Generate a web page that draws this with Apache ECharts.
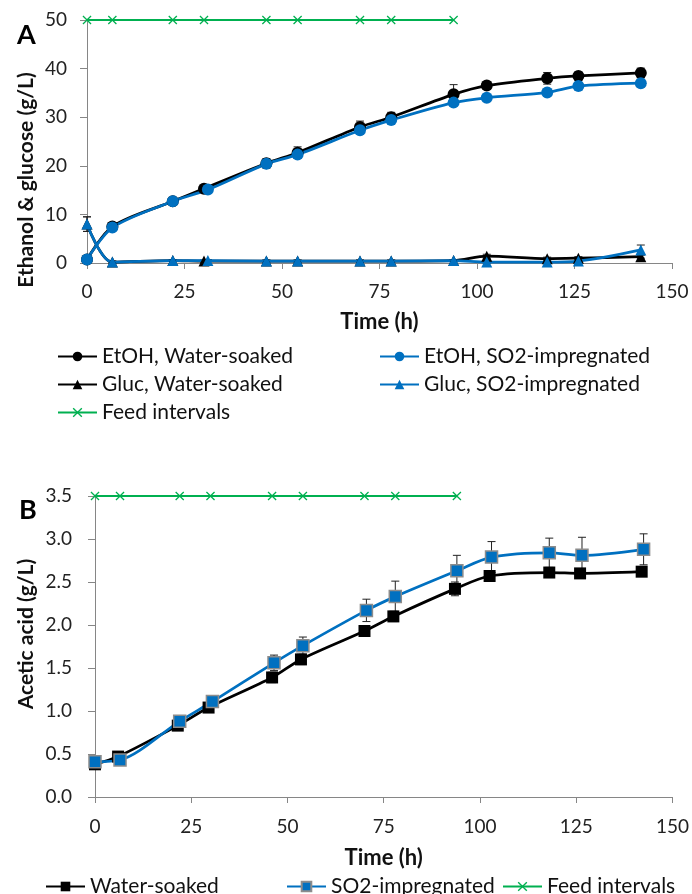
<!DOCTYPE html>
<html>
<head>
<meta charset="utf-8">
<script src="https://cdn.jsdelivr.net/npm/echarts@6/dist/echarts.min.js"></script>
<style>
  html, body { margin: 0; padding: 0; background: #fff; }
  #chart { width: 692px; height: 894px; }
</style>
</head>
<body>
<div id="chart"></div>
<script>
// panel A: ethanol & glucose
const timeAWater = [0, 6.5, 22, 30, 46, 54, 70, 78, 94, 102.5, 118, 126, 142];
const timeASO2 = [0, 6.5, 22, 31, 46, 54, 70, 78, 94, 102.5, 118, 126, 142];
const etohWater = [0.7, 7.5, 12.7, 15.3, 20.5, 22.7, 28.0, 30.0, 34.7, 36.5, 38.0, 38.5, 39.1];
const etohWaterErr = [0.3, 0.5, 0.6, 0.6, 1.0, 1.2, 1.2, 1.0, 2.0, 0.8, 1.2, 0.8, 1.0];
const etohSO2 = [0.7, 7.3, 12.7, 15.1, 20.4, 22.3, 27.3, 29.4, 33.0, 34.0, 35.1, 36.4, 37.0];
const etohSO2Err = [0.2, 0.4, 0.4, 0.4, 0.6, 0.6, 0.6, 0.5, 0.6, 0.4, 0.6, 0.4, 0.6];
const glucWater = [8.0, 0.2, 0.5, 0.4, 0.4, 0.4, 0.4, 0.4, 0.5, 1.4, 0.9, 1.0, 1.3];
const glucWaterErr = [1.5, 0.2, 0.2, 0.2, 0.2, 0.2, 0.2, 0.2, 0.2, 0.4, 0.3, 0.3, 0.3];
const glucSO2 = [8.0, 0.2, 0.5, 0.5, 0.4, 0.4, 0.4, 0.4, 0.5, 0.2, 0.2, 0.4, 2.7];
const glucSO2Err = [1.5, 0.2, 0.2, 0.2, 0.2, 0.2, 0.2, 0.2, 0.2, 0.2, 0.2, 0.3, 1.0];

// panel B: acetic acid
const timeBWater = [0, 6, 21.5, 29.5, 46, 53.5, 70, 77.5, 93.5, 102.5, 118, 126, 142];
const timeBSO2 = [0, 6.5, 22, 30.5, 46.5, 54, 70.5, 78, 94, 103, 118, 126.5, 142.5];
const aceticWater = [0.38, 0.47, 0.83, 1.04, 1.39, 1.60, 1.93, 2.10, 2.42, 2.57, 2.61, 2.60, 2.62];
const aceticWaterErr = [0.03, 0.03, 0.03, 0.04, 0.06, 0.06, 0.06, 0.06, 0.08, 0.05, 0.05, 0.05, 0.05];
const aceticSO2 = [0.41, 0.43, 0.88, 1.11, 1.56, 1.76, 2.17, 2.33, 2.63, 2.79, 2.84, 2.81, 2.88];
const aceticSO2Err = [0.03, 0.03, 0.04, 0.05, 0.09, 0.10, 0.13, 0.18, 0.18, 0.18, 0.17, 0.21, 0.18];

// feed points
const feedTimes = [0, 6.5, 22, 30, 46, 54, 70, 78, 94];
const feedLevelA = 50;
const feedLevelB = 3.5;

const FONT = "Lato";
const BLACK = "#000000";
const BLUE = "#0070C0";
const GREEN = "#00B050";
const AXIS = "#868686";
const CROSS = "path://M0,1L1,0L5,4L9,0L10,1L6,5L10,9L9,10L5,6L1,10L0,9L4,5Z";

const zip = (xs, ys) => xs.map((x, i) => [x, ys[i]]);
const errData = (xs, ys, es) => xs.map((x, i) => [x, ys[i] - es[i], ys[i] + es[i]]);

function errorSeries(idx, data) {
  return {
    type: "custom",
    xAxisIndex: idx,
    yAxisIndex: idx,
    silent: true,
    z: 1,
    data: data,
    encode: { x: 0, y: [1, 2] },
    renderItem: function (params, api) {
      const lo = api.coord([api.value(0), Math.max(api.value(1), 0)]);
      const hi = api.coord([api.value(0), api.value(2)]);
      const w = 4;
      const st = { stroke: "#222", lineWidth: 1 };
      return {
        type: "group",
        children: [
          { type: "line", shape: { x1: lo[0], y1: lo[1], x2: hi[0], y2: hi[1] }, style: st },
          { type: "line", shape: { x1: hi[0] - w, y1: hi[1], x2: hi[0] + w, y2: hi[1] }, style: st },
          { type: "line", shape: { x1: lo[0] - w, y1: lo[1], x2: lo[0] + w, y2: lo[1] }, style: st }
        ]
      };
    }
  };
}

function lineSeries(name, idx, data, color, symbol, size, extra) {
  return Object.assign({
    name: name,
    type: "line",
    xAxisIndex: idx,
    yAxisIndex: idx,
    data: data,
    smooth: 0.3,
    symbol: symbol,
    symbolSize: size,
    z: 3,
    lineStyle: { color: color, width: 2.75 },
    itemStyle: { color: color },
    emphasis: { disabled: true }
  }, extra || {});
}

function feedSeries(idx, level) {
  return {
    name: "Feed intervals",
    type: "line",
    xAxisIndex: idx,
    yAxisIndex: idx,
    data: feedTimes.map(t => [t, level]),
    symbol: CROSS,
    symbolSize: 9,
    z: 4,
    lineStyle: { color: GREEN, width: 2 },
    itemStyle: { color: GREEN },
    emphasis: { disabled: true }
  };
}

const xAxisCommon = {
  type: "value",
  min: 0,
  max: 150,
  interval: 25,
  splitLine: { show: false },
  axisLine: { lineStyle: { color: AXIS, width: 1 } },
  axisTick: { show: true, length: 6, lineStyle: { color: AXIS } },
  axisLabel: { color: "#222", fontSize: 19, fontFamily: FONT },
  name: "Time (h)",
  nameLocation: "middle",
  nameTextStyle: { color: "#111", fontSize: 22, fontWeight: "bold", fontFamily: FONT }
};

const yAxisCommon = {
  type: "value",
  min: 0,
  splitLine: { show: false },
  axisLine: { show: true, lineStyle: { color: AXIS, width: 1 } },
  axisTick: { show: true, length: 7, lineStyle: { color: AXIS } },
  axisLabel: { color: "#222", fontSize: 19, fontFamily: FONT }
};

const legendText = { color: "#111", fontSize: 21, fontFamily: FONT };
const yTitleStyle = { fill: "#111", fontSize: 21, fontWeight: "bold", fontFamily: FONT, align: "center", verticalAlign: "middle" };

const chart = echarts.init(document.getElementById("chart"));
const option = {
  backgroundColor: "#fff",
  animation: false,
  title: [
    { text: "A", left: 12, top: 17, textStyle: { fontSize: 27, fontWeight: "bold", fontFamily: FONT, color: "#000" } },
    { text: "B", left: 14, top: 492, textStyle: { fontSize: 27, fontWeight: "bold", fontFamily: FONT, color: "#000" } }
  ],
  graphic: [
    { type: "text", x: 26, y: 180, rotation: Math.PI / 2, style: Object.assign({ text: "Ethanol & glucose (g/L)" }, yTitleStyle) },
    { type: "text", x: 26, y: 634, rotation: Math.PI / 2, style: Object.assign({ text: "Acetic acid (g/L)" }, yTitleStyle) }
  ],
  grid: [
    { left: 87, top: 20, width: 585, height: 243 },
    { left: 95, top: 496, width: 578, height: 301 }
  ],
  xAxis: [
    Object.assign({}, xAxisCommon, { gridIndex: 0, nameGap: 48, axisLabel: Object.assign({}, xAxisCommon.axisLabel, { margin: 19 }) }),
    Object.assign({}, xAxisCommon, { gridIndex: 1, nameGap: 50, axisLabel: Object.assign({}, xAxisCommon.axisLabel, { margin: 20 }) })
  ],
  yAxis: [
    Object.assign({}, yAxisCommon, {
      gridIndex: 0, max: 50, interval: 10,
      axisLabel: Object.assign({}, yAxisCommon.axisLabel, { margin: 20 })
    }),
    Object.assign({}, yAxisCommon, {
      gridIndex: 1, max: 3.5, interval: 0.5,
      axisLabel: Object.assign({}, yAxisCommon.axisLabel, { margin: 23, formatter: v => v.toFixed(1) })
    })
  ],
  legend: [
    {
      data: ["EtOH, Water-soaked", "Gluc, Water-soaked", "Feed intervals"],
      orient: "vertical", left: 52, top: 341, itemGap: 7, itemWidth: 39, itemHeight: 12,
      textStyle: legendText, selectedMode: false
    },
    {
      data: ["EtOH, SO2-impregnated", "Gluc, SO2-impregnated"],
      orient: "vertical", left: 374, top: 341, itemGap: 7, itemWidth: 39, itemHeight: 12,
      textStyle: legendText, selectedMode: false
    },
    {
      data: ["Water-soaked"], left: 40, top: 871, itemWidth: 39, itemHeight: 12,
      textStyle: legendText, selectedMode: false
    },
    {
      data: ["SO2-impregnated"], left: 281, top: 871, itemWidth: 39, itemHeight: 12,
      textStyle: legendText, selectedMode: false
    },
    {
      data: [{ name: "Feed intervals" }], left: 497, top: 871, itemWidth: 39, itemHeight: 12,
      textStyle: legendText, selectedMode: false
    }
  ],
  series: [
    errorSeries(0, errData(timeAWater, etohWater, etohWaterErr)),
    errorSeries(0, errData(timeASO2, etohSO2, etohSO2Err)),
    errorSeries(0, errData(timeAWater, glucWater, glucWaterErr)),
    errorSeries(0, errData(timeASO2, glucSO2, glucSO2Err)),
    lineSeries("EtOH, Water-soaked", 0, zip(timeAWater, etohWater), BLACK, "circle", 12),
    lineSeries("Gluc, Water-soaked", 0, zip(timeAWater, glucWater), BLACK, "triangle", 11),
    lineSeries("EtOH, SO2-impregnated", 0, zip(timeASO2, etohSO2), BLUE, "circle", 12),
    lineSeries("Gluc, SO2-impregnated", 0, zip(timeASO2, glucSO2), BLUE, "triangle", 11),
    feedSeries(0, feedLevelA),

    errorSeries(1, errData(timeBWater, aceticWater, aceticWaterErr)),
    errorSeries(1, errData(timeBSO2, aceticSO2, aceticSO2Err)),
    lineSeries("Water-soaked", 1, zip(timeBWater, aceticWater), BLACK, "rect", 12),
    lineSeries("SO2-impregnated", 1, zip(timeBSO2, aceticSO2), BLUE, "rect", 12, {
      itemStyle: { color: BLUE, borderColor: "#8C8C8C", borderWidth: 1.5 }
    }),
    feedSeries(1, feedLevelB)
  ]
};
chart.setOption(option);
</script>
</body>
</html>
